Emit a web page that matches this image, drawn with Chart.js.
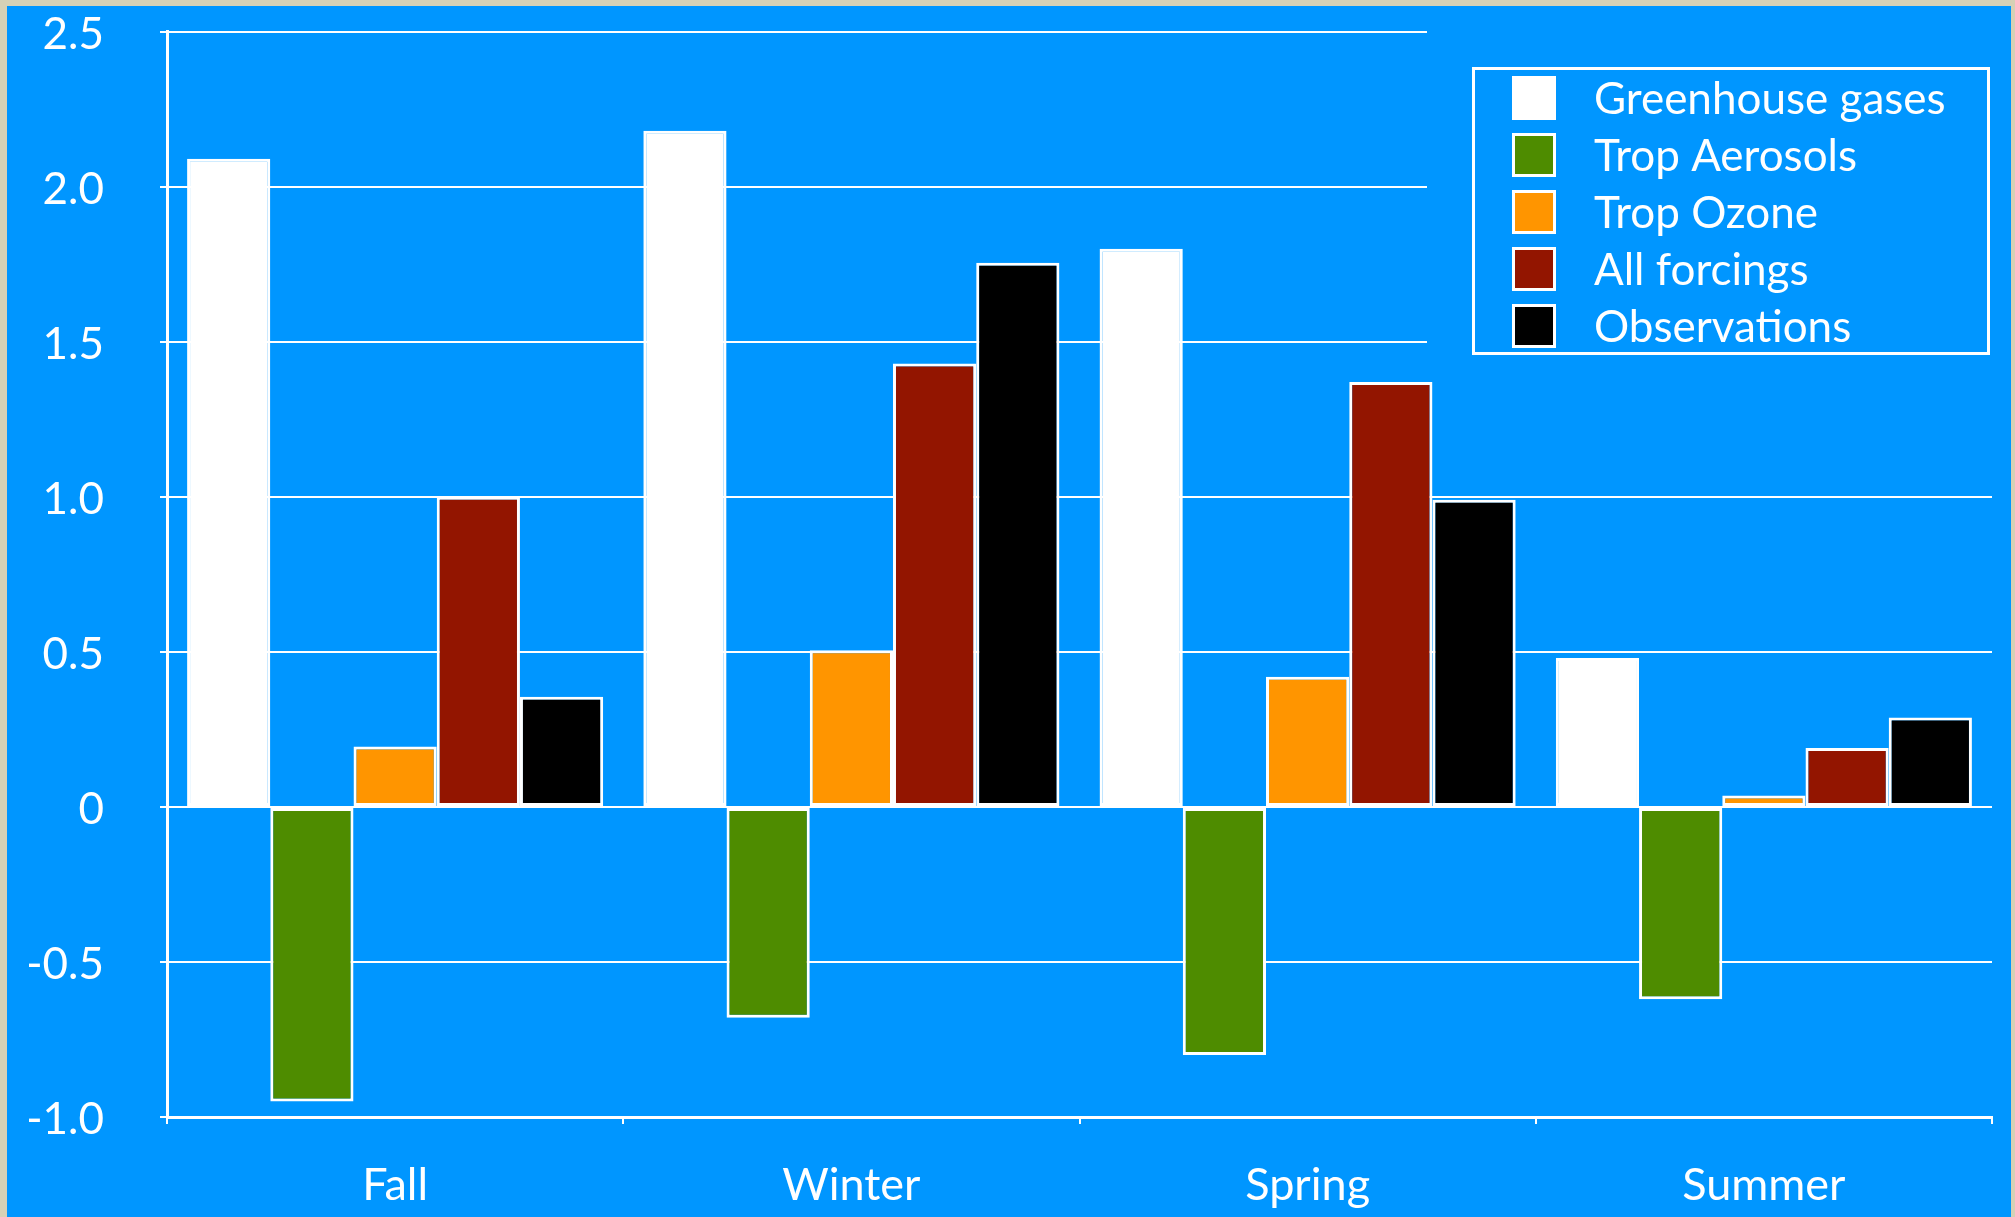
<!DOCTYPE html>
<html><head><meta charset="utf-8">
<script src="https://cdn.jsdelivr.net/npm/chart.js@4.4.0/dist/chart.umd.min.js"></script>
<style>
html,body{margin:0;padding:0;width:2015px;height:1217px;overflow:hidden;background:#d6d1b6;}
#wrap{position:absolute;left:7px;top:6px;width:2004px;height:1211px;background:#0096ff;}
canvas{display:block;}
</style></head><body>
<div id="wrap"><canvas id="c" width="2004" height="1211"></canvas></div>
<script>
const categories = ['Fall', 'Winter', 'Spring', 'Summer'];
const seriesNames = ['Greenhouse gases', 'Trop Aerosols', 'Trop Ozone', 'All forcings', 'Observations'];
const greenhouse   = [2.09, 2.18, 1.80, 0.48];
const aerosols     = [-0.95, -0.68, -0.80, -0.62];
const ozone        = [0.195, 0.505, 0.42, 0.037];
const allForcings  = [1.00, 1.43, 1.37, 0.19];
const observations = [0.355, 1.755, 0.99, 0.288];
const yTicks = [-1.0, -0.5, 0, 0.5, 1.0, 1.5, 2.0, 2.5];

const seriesValues = [greenhouse, aerosols, ozone, allForcings, observations];
const seriesColors = ['#ffffff', '#4e8c00', '#ff9500', '#931500', '#000000'];

const FONT = 'Lato, "Open Sans", sans-serif';

const gridPlugin = {
  id: 'customGrid',
  beforeDatasetsDraw(chart) {
    const { ctx, chartArea: a, scales: { y } } = chart;
    ctx.save();
    ctx.strokeStyle = '#ffffff';
    ctx.lineWidth = 2;
    yTicks.forEach(v => {
      const py = Math.round(y.getPixelForValue(v));
      ctx.beginPath();
      ctx.moveTo(a.left - 7, py);
      ctx.lineTo(a.left, py);
      ctx.stroke();
      if (v === yTicks[0]) return;
      const right = v >= 1.5 ? 1420 : a.right;
      ctx.beginPath();
      ctx.moveTo(a.left, py);
      ctx.lineTo(right, py);
      ctx.stroke();
    });
    ctx.restore();
  }
};

const legendPlugin = {
  id: 'customLegend',
  afterDraw(chart) {
    const { ctx } = chart;
    const bx = 1465, by = 61, bw = 518, bh = 288;
    ctx.save();
    ctx.fillStyle = '#0096ff';
    ctx.fillRect(bx, by, bw, bh);
    ctx.strokeStyle = '#ffffff';
    ctx.lineWidth = 3;
    ctx.strokeRect(bx + 1.5, by + 1.5, bw - 3, bh - 3);
    ctx.font = '44px ' + FONT;
    ctx.textBaseline = 'alphabetic';
    ctx.textAlign = 'left';
    chart.data.datasets.forEach((ds, i) => {
      const cy = 92 + i * 57;
      ctx.fillStyle = '#ffffff';
      ctx.fillRect(1505, cy - 22, 44, 44);
      ctx.fillStyle = ds.backgroundColor;
      ctx.fillRect(1508, cy - 19, 38, 38);
      ctx.fillStyle = '#ffffff';
      ctx.fillText(ds.label, 1587, cy + 16);
    });
    ctx.restore();
  }
};

new Chart(document.getElementById('c'), {
  type: 'bar',
  data: {
    labels: categories,
    datasets: seriesNames.map((name, i) => ({
      label: name,
      data: seriesValues[i],
      backgroundColor: seriesColors[i],
      borderColor: '#ffffff',
      borderWidth: 3,
      borderSkipped: false,
      categoryPercentage: 0.912,
      barPercentage: 1.0
    }))
  },
  options: {
    responsive: false,
    animation: false,
    devicePixelRatio: 1,
    layout: { padding: { top: 25.6, right: 19, left: 0, bottom: 0 } },
    plugins: { legend: { display: false }, tooltip: { enabled: false } },
    scales: {
      x: {
        offset: true,
        grid: { display: true, drawOnChartArea: false, drawTicks: true, tickLength: 7, color: '#ffffff', lineWidth: 2, offset: true },
        border: { display: true, color: '#ffffff', width: 3 },
        ticks: { color: '#ffffff', font: { family: FONT, size: 45 }, padding: 34, maxRotation: 0 },
        afterFit(scale) { scale.height = 100; }
      },
      y: {
        min: -1, max: 2.5,
        afterBuildTicks(scale) { scale.ticks = yTicks.map(v => ({ value: v })); },
        grid: { display: true, drawOnChartArea: false, drawTicks: true, tickLength: 63, tickColor: 'rgba(0,0,0,0)', color: '#ffffff', lineWidth: 2 },
        border: { display: true, color: '#ffffff', width: 3 },
        ticks: {
          color: '#ffffff', font: { family: FONT, size: 44, lineHeight: 1.0 }, padding: 0, labelOffset: 3,
          callback: v => (v === 0 ? '0' : Number(v).toFixed(1))
        },
        afterFit(scale) { scale.width = 160; }
      }
    }
  },
  plugins: [gridPlugin, legendPlugin]
});
</script>
</body></html>
